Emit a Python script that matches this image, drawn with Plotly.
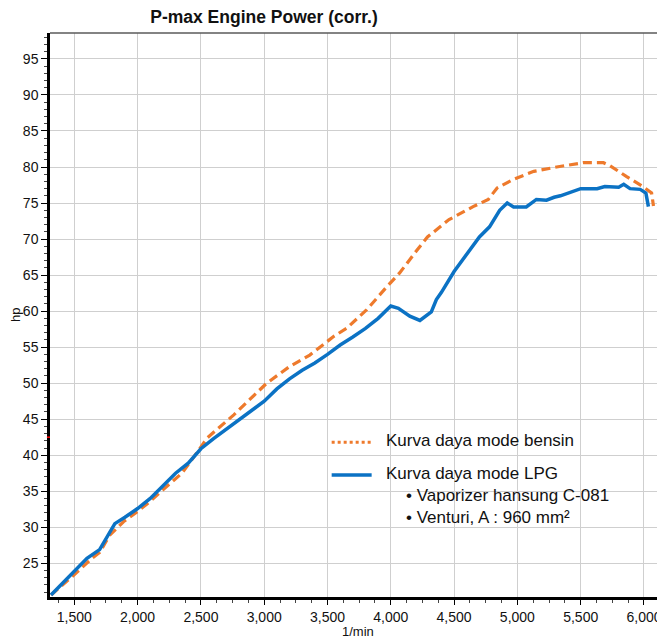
import plotly.graph_objects as go

# ---- data ----
rpm_bensin = [1316, 1480, 1640, 1700, 1780, 1890, 2000, 2100, 2200, 2350, 2470, 2550,
              2760, 3020, 3200, 3360, 3470, 3550, 3650, 3810, 3970, 4070, 4200, 4290,
              4460, 4650, 4770, 4840, 4970, 5130, 5310, 5520, 5680, 5730, 5860, 5990,
              6060, 6075]
hp_bensin = [20.6, 23.1, 25.7, 26.5, 28.9, 30.8, 32.2, 33.6, 35.2, 37.5, 40.4, 42.4,
             45.6, 50.0, 52.3, 53.9, 55.4, 56.5, 57.6, 60.2, 63.4, 65.3, 68.3, 70.3,
             72.7, 74.5, 75.5, 77.1, 78.3, 79.4, 80.0, 80.6, 80.6, 80.2, 78.7, 77.3,
             76.4, 74.6]

rpm_lpg = [1316, 1400, 1500, 1600, 1700, 1760, 1820, 1900, 2000, 2100, 2200, 2300,
           2400, 2500, 2600, 2700, 2800, 2900, 3000, 3100, 3200, 3300, 3400, 3500,
           3600, 3700, 3800, 3900, 4000, 4060, 4150, 4230, 4320, 4360, 4400, 4500,
           4600, 4650, 4700, 4780, 4860, 4920, 4970, 5070, 5150, 5230, 5290, 5340,
           5440, 5500, 5630, 5690, 5800, 5840, 5890, 5970, 6015, 6035]
hp_lpg = [20.6, 22.1, 23.9, 25.7, 26.9, 28.6, 30.5, 31.4, 32.6, 34.0, 35.8, 37.5,
          38.9, 40.9, 42.3, 43.6, 44.9, 46.2, 47.5, 49.2, 50.6, 51.8, 52.8, 54.0,
          55.3, 56.4, 57.6, 59.0, 60.7, 60.4, 59.3, 58.7, 59.9, 61.6, 62.6, 65.5,
          67.9, 69.2, 70.3, 71.7, 74.0, 75.0, 74.45, 74.45, 75.5, 75.4, 75.8, 76.0,
          76.6, 77.0, 77.0, 77.3, 77.2, 77.6, 77.0, 76.9, 76.4, 74.5]

x_tick_vals = [1500, 2000, 2500, 3000, 3500, 4000, 4500, 5000, 5500, 6000]
x_tick_text = ["1,500", "2,000", "2,500", "3,000", "3,500", "4,000", "4,500",
               "5,000", "5,500", "6,000"]
y_tick_vals = [25, 30, 35, 40, 45, 50, 55, 60, 65, 70, 75, 80, 85, 90, 95]

title_text = "P-max Engine Power (corr.)"
x_title = "1/min"
y_title = "hp"
name_bensin = "Kurva daya mode bensin"
name_lpg = "Kurva daya mode LPG"
lpg_notes = ["\u2022 Vaporizer hansung C-081", "\u2022 Venturi, A : 960 mm\u00b2"]

BLUE = "#0B72C4"
ORANGE = "#EE7A2C"
FONT = "Liberation Sans, Arial, sans-serif"

# the page body has an 8px margin, so the figure is 8px smaller than the window
W, H = 657, 634

fig = go.Figure()
fig.add_trace(go.Scatter(x=rpm_bensin, y=hp_bensin, mode="lines", name=name_bensin,
                         line=dict(color=ORANGE, width=3.2, dash="9px,5px")))
fig.add_trace(go.Scatter(x=rpm_lpg, y=hp_lpg, mode="lines", name=name_lpg,
                         line=dict(color=BLUE, width=3.5)))

# legend box (manual)
shapes = [
    dict(type="rect", xref="paper", yref="paper", x0=0.4358, x1=1.01, y0=0.0922, y1=0.3191,
         fillcolor="white", line=dict(width=0), layer="between"),
    dict(type="line", xref="paper", yref="paper", x0=0.458, x1=0.523, y0=0.2743, y1=0.2743,
         line=dict(color=ORANGE, width=3, dash="dot")),
    dict(type="line", xref="paper", yref="paper", x0=0.458, x1=0.523, y0=0.2163, y1=0.2163,
         line=dict(color=BLUE, width=3.5)),
    # top frame line
    dict(type="line", xref="paper", yref="paper", x0=0, x1=1, y0=1, y1=1,
         line=dict(color="#5a5a5a", width=1.5)),
    # small red marker on the y axis
    dict(type="line", xref="paper", yref="y", x0=-0.005, x1=0.0, y0=42.5, y1=42.5,
         line=dict(color="red", width=1.5)),
]

annotations = [
    dict(text=name_bensin, xref="paper", yref="paper", x=0.5431, y=0.2766,
         xanchor="left", yanchor="middle", showarrow=False, font=dict(size=17, color="#111")),
    dict(text=name_lpg, xref="paper", yref="paper", x=0.5431, y=0.2193,
         xanchor="left", yanchor="middle", showarrow=False, font=dict(size=17, color="#111")),
    dict(text=lpg_notes[0], xref="paper", yref="paper", x=0.5756, y=0.1791,
         xanchor="left", yanchor="middle", showarrow=False, font=dict(size=17, color="#111")),
    dict(text=lpg_notes[1], xref="paper", yref="paper", x=0.5756, y=0.1413,
         xanchor="left", yanchor="middle", showarrow=False, font=dict(size=17, color="#111")),
    dict(text=y_title, xref="paper", yref="paper", x=-0.0570, y=0.5, textangle=-90,
         xanchor="center", yanchor="middle", showarrow=False, font=dict(size=13, color="#111")),
    dict(text=x_title, xref="paper", yref="paper", x=0.5008, y=-0.062,
         xanchor="center", yanchor="middle", showarrow=False, font=dict(size=13, color="#111")),
]

fig.update_layout(
    width=W, height=H, autosize=False,
    margin=dict(l=42, r=0, t=25, b=45),
    paper_bgcolor="white", plot_bgcolor="white",
    showlegend=False,
    font=dict(family=FONT, size=14, color="#111"),
    title=dict(text="<b>" + title_text + "</b>", xref="container", yref="container",
               x=256 / W, y=1 - 8.5 / H, xanchor="center", yanchor="middle",
               font=dict(size=17.5, family=FONT, color="#111")),
    shapes=shapes,
    annotations=annotations,
    xaxis=dict(range=[1308, 6166], tickvals=x_tick_vals, ticktext=x_tick_text,
               showgrid=True, gridcolor="#cfcfcf", gridwidth=1.3,
               showline=True, linecolor="black", linewidth=2.5,
               ticks="outside", ticklen=5, tickcolor="black", tickwidth=1,
               minor=dict(dtick=125, tick0=1500, ticks="outside", ticklen=3,
                          tickcolor="#444", showgrid=False),
               zeroline=False, tickfont=dict(size=14)),
    yaxis=dict(range=[20.32, 98.6], tickvals=y_tick_vals,
               showgrid=True, gridcolor="#cfcfcf", gridwidth=1.3,
               showline=True, linecolor="black", linewidth=2.5,
               ticks="outside", ticklen=6, tickcolor="black", tickwidth=1,
               minor=dict(dtick=1, tick0=25, ticks="outside", ticklen=3,
                          tickcolor="#444", showgrid=False),
               zeroline=False, tickfont=dict(size=14)),
)

fig.write_html("out.html")
